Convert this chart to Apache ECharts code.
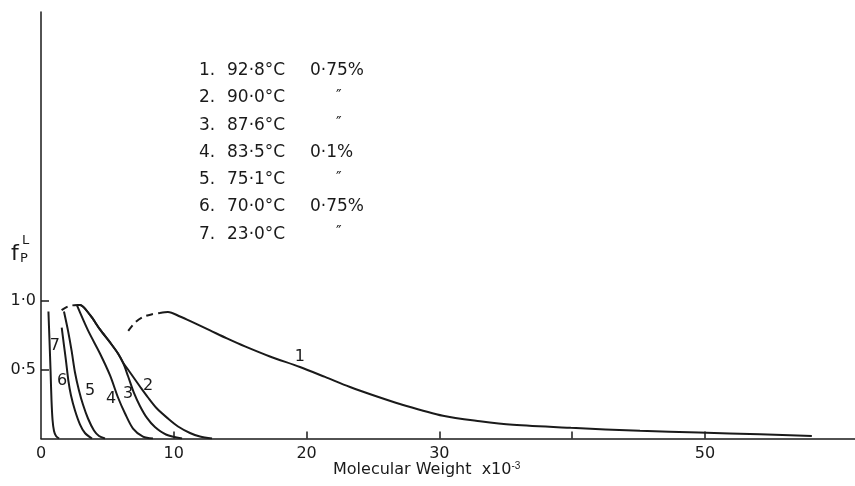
<!DOCTYPE html>
<html>
<head>
<meta charset="utf-8">
<script src="https://cdn.jsdelivr.net/npm/echarts@6/dist/echarts.min.js"></script>
<style>html,body{margin:0;padding:0;background:#fff;}#c{width:855px;height:486px;}</style>
</head>
<body>
<div id="c"></div>
<script>
// ---- data ----
const xTickLabels = [0, 10, 20, 30, 50];
const xTickMarks = [10, 20, 30, 40, 50];
const yTickLabels = [0.5, 1.0];

const curve1Dashed = [[6.57,0.78],[7.08,0.84],[7.68,0.88],[8.36,0.90],[8.96,0.91]];
const curve1 = [[8.96,0.91],[9.56,0.917],[10.47,0.884],[11.45,0.841],[12.73,0.783],[14.0,0.725],[15.36,0.667],[17.24,0.594],[19.5,0.518],[21.39,0.446],[23.27,0.373],[25.3,0.304],[27.03,0.25],[30.27,0.165],[33.06,0.125],[35.54,0.099],[39.9,0.077],[45.11,0.056],[49.55,0.044],[54.14,0.03],[58.05,0.018]];
const peakDashed = [[1.55,0.93],[1.96,0.953],[2.33,0.964],[2.71,0.967]];
const curve2 = [[2.71,0.967],[2.94,0.967],[3.69,0.895],[4.44,0.79],[5.2,0.696],[5.8,0.616],[6.17,0.551],[6.55,0.5],[7.0,0.438],[7.45,0.377],[8.06,0.297],[8.73,0.217],[9.56,0.145],[10.32,0.087],[11.22,0.04],[11.97,0.014],[12.88,0]];
const curve3 = [[2.71,0.967],[2.94,0.967],[3.69,0.895],[4.44,0.79],[5.2,0.696],[5.8,0.616],[6.17,0.551],[6.55,0.453],[7.0,0.33],[7.45,0.236],[7.98,0.149],[8.58,0.083],[9.41,0.029],[10.62,0]];
const curve4 = [[2.71,0.964],[3.54,0.783],[4.44,0.616],[5.2,0.457],[5.8,0.297],[6.33,0.181],[6.93,0.072],[7.68,0.014],[8.43,0]];
const curve5 = [[1.73,0.92],[2.03,0.783],[2.30,0.638],[2.56,0.478],[2.86,0.348],[3.16,0.246],[3.54,0.145],[3.99,0.058],[4.37,0.018],[4.82,0]];
const curve6 = [[1.56,0.804],[1.73,0.674],[1.88,0.565],[2.06,0.42],[2.26,0.312],[2.56,0.203],[2.94,0.101],[3.31,0.04],[3.84,0]];
const curve7 = [[0.56,0.92],[0.64,0.71],[0.72,0.49],[0.79,0.279],[0.87,0.134],[0.98,0.054],[1.13,0.018],[1.36,0]];

const curveLabels = [[19.5,0.59,'1'],[8.06,0.384,'2'],[6.55,0.326,'3'],[5.27,0.29,'4'],[3.69,0.348,'5'],[1.58,0.42,'6'],[1.05,0.674,'7']];

const legendNums = ['1.','2.','3.','4.','5.','6.','7.'];
const legendTemps = ['92·8°C','90·0°C','87·6°C','83·5°C','75·1°C','70·0°C','23·0°C'];
const legendConcs = ['0·75%','″','″','0·1%','″','0·75%','″'];

// ---- chart ----
const ink = '#1a1a1a';
const font = '"DejaVu Sans", "Liberation Sans", sans-serif';
const chart = echarts.init(document.getElementById('c'), null, {renderer: 'canvas'});

function lineSeries(data, dashed) {
  return {
    type: 'line', data: data, showSymbol: false, symbol: 'none',
    smooth: 0.3, silent: true,
    lineStyle: {color: ink, width: 2, type: dashed ? [7, 5] : 'solid'},
    z: 3
  };
}

const graphics = [];
legendNums.forEach((n, i) => {
  const y = 72 + i * 27.3;
  graphics.push({type: 'text', left: 199, top: y - 10, style: {text: n, font: '17px ' + font, fill: ink}});
  graphics.push({type: 'text', left: 227, top: y - 10, style: {text: legendTemps[i], font: '17px ' + font, fill: ink}});
  const c = legendConcs[i];
  if (c === '″') {
    graphics.push({type: 'text', left: 336, top: y - 10, style: {text: c, font: '15px ' + font, fill: ink}});
  } else {
    graphics.push({type: 'text', left: 310, top: y - 10, style: {text: c, font: '17px ' + font, fill: ink}});
  }
});
// y-axis name f_P^L
graphics.push({type: 'text', left: 11, top: 243, style: {text: 'f', font: '22px ' + font, fill: ink}});
graphics.push({type: 'text', left: 22, top: 234, style: {text: 'L', font: '13px ' + font, fill: ink}});
graphics.push({type: 'text', left: 20, top: 252, style: {text: 'P', font: '13px ' + font, fill: ink}});
// x-axis name
graphics.push({type: 'text', left: 333, top: 461, style: {
  text: 'Molecular Weight  x10{s|-3}',
  font: '16px ' + font, fill: ink,
  rich: {s: {fontSize: 10, verticalAlign: 'top', padding: [0,0,8,0], fill: ink}}
}});

chart.setOption({
  animation: false,
  backgroundColor: '#fff',
  grid: {left: 41, right: 0, top: 12, bottom: 47.5, containLabel: false},
  xAxis: {
    type: 'value', min: 0, max: 61.3, interval: 10,
    axisLine: {show: true, lineStyle: {color: ink, width: 1.5}},
    axisTick: {show: true, inside: true, length: 7, lineStyle: {color: ink, width: 1.5}, customValues: xTickMarks},
    axisLabel: {show: true, color: ink, fontSize: 16, fontFamily: font, margin: 7, customValues: xTickLabels, formatter: v => String(v)},
    splitLine: {show: false}
  },
  yAxis: {
    type: 'value', min: 0, max: 3.09,
    axisLine: {show: true, lineStyle: {color: ink, width: 1.5}},
    axisTick: {show: true, inside: true, length: 8, lineStyle: {color: ink, width: 1.5}, customValues: yTickLabels},
    axisLabel: {show: true, color: ink, fontSize: 16, fontFamily: font, margin: 5, customValues: yTickLabels, formatter: v => v.toFixed(1).replace('.', '·')},
    splitLine: {show: false}
  },
  graphic: graphics,
  series: [
    lineSeries(curve1Dashed, true),
    lineSeries(curve1, false),
    lineSeries(peakDashed, true),
    lineSeries(curve2, false),
    lineSeries(curve3, false),
    lineSeries(curve4, false),
    lineSeries(curve5, false),
    lineSeries(curve6, false),
    lineSeries(curve7, false),
    {
      type: 'scatter', data: curveLabels, symbolSize: 0, silent: true, z: 4,
      itemStyle: {opacity: 1},
      label: {show: true, position: 'inside', formatter: p => p.value[2], color: ink, fontSize: 16, fontFamily: font}
    }
  ]
});
</script>
</body>
</html>
